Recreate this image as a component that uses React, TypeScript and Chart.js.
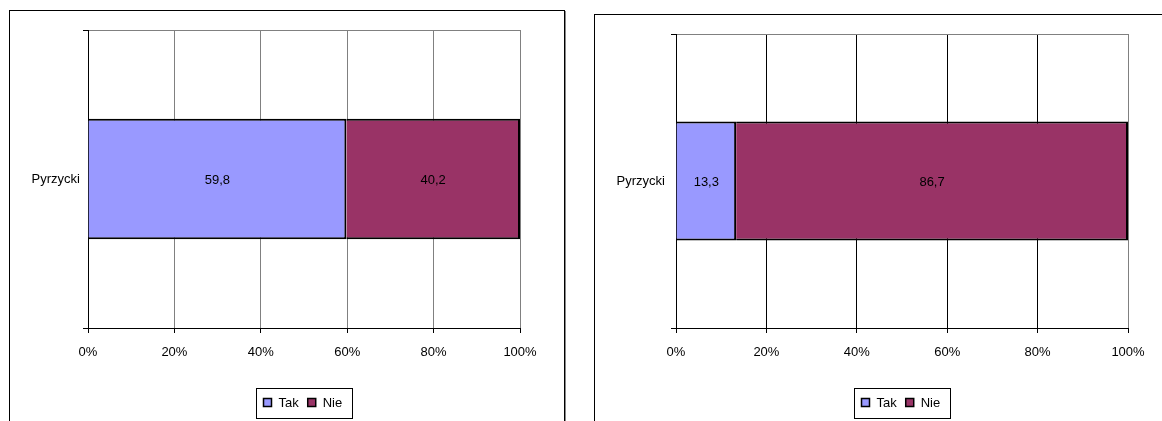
import React, { useEffect, useRef } from 'react';
import { Chart, registerables } from 'chart.js';

Chart.register(...registerables);

const categories = ['Pyrzycki'];
const seriesNames = ['Tak', 'Nie'];
const seriesColors = ['#9999FF', '#993366'];
const leftTak = [59.8];
const leftNie = [40.2];
const rightTak = [13.3];
const rightNie = [86.7];
const xTickStep = 20;
const xMax = 100;

const FONT = { family: '"Liberation Sans", Arial, sans-serif', size: 13 };

const labelsPlugin = {
  id: 'barLabels',
  afterDatasetsDraw(chart: any) {
    const ctx = chart.ctx;
    ctx.save();
    ctx.font = `${FONT.size}px ${FONT.family}`;
    ctx.fillStyle = '#000';
    ctx.textAlign = 'center';
    ctx.textBaseline = 'middle';
    chart.data.datasets.forEach((ds: any, di: number) => {
      const meta = chart.getDatasetMeta(di);
      meta.data.forEach((el: any, i: number) => {
        const v = ds.data[i];
        const cx = (el.x + el.base) / 2;
        ctx.fillText(v.toFixed(1).replace('.', ','), cx, el.y + 1);
      });
    });
    ctx.restore();
  },
};

const legendPlugin = {
  id: 'boxLegend',
  afterDraw(chart: any) {
    const o = chart.options.plugins.boxLegend;
    const ctx = chart.ctx;
    const area = chart.chartArea;
    ctx.save();
    ctx.font = `${FONT.size}px ${FONT.family}`;
    const pad = 7, sq = 8, gap = 7, itemGap = 9;
    const widths = chart.data.datasets.map((d: any) => ctx.measureText(d.label).width);
    let total = pad * 2;
    widths.forEach((w: number, i: number) => {
      total += sq + gap + w + (i < widths.length - 1 ? itemGap : 0);
    });
    total += 3;
    const h = 30;
    const cx = (area.left + area.right) / 2;
    const x0 = Math.round(cx - total / 2) + 0.5;
    const y0 = o.top + 0.5;
    ctx.strokeStyle = '#000';
    ctx.lineWidth = 1;
    ctx.strokeRect(x0, y0, Math.round(total), h);
    let x = x0 + pad;
    const cy = y0 + h / 2;
    chart.data.datasets.forEach((d: any, i: number) => {
      ctx.fillStyle = d.backgroundColor;
      ctx.fillRect(x, cy - sq / 2 - 1, sq, sq);
      ctx.strokeStyle = '#000';
      ctx.lineWidth = 1.5;
      ctx.strokeRect(x, cy - sq / 2 - 1, sq, sq);
      x += sq + gap;
      ctx.fillStyle = '#000';
      ctx.textAlign = 'left';
      ctx.textBaseline = 'middle';
      ctx.fillText(d.label, x, cy);
      x += widths[i] + itemGap;
    });
    ctx.restore();
  },
};

type Props = {
  tak: number[];
  nie: number[];
  boxLeft: number;
  boxTop: number;
  boxWidth: number;
  canvasW: number;
  canvasH: number;
  area: { l: number; r: number; t: number; b: number };
  gridColor: (v: number) => string;
  yPad: number;
  legendTop: number;
};

function BarBox(p: Props) {
  const ref = useRef<HTMLCanvasElement | null>(null);
  useEffect(() => {
    if (!ref.current) return;
    const chart = new Chart(ref.current, {
      type: 'bar',
      data: {
        labels: categories,
        datasets: [
          {
            label: seriesNames[0],
            data: p.tak,
            backgroundColor: seriesColors[0],
            borderColor: '#000',
            borderWidth: 2,
            barPercentage: 0.405,
            categoryPercentage: 1,
          },
          {
            label: seriesNames[1],
            data: p.nie,
            backgroundColor: seriesColors[1],
            borderColor: '#000',
            borderWidth: 2,
            barPercentage: 0.405,
            categoryPercentage: 1,
          },
        ],
      },
      options: {
        indexAxis: 'y',
        responsive: false,
        maintainAspectRatio: false,
        animation: false,
        layout: { padding: { left: 0, top: p.area.t, right: p.canvasW - p.area.r, bottom: 0 } },
        plugins: {
          legend: { display: false },
          tooltip: { enabled: false },
          boxLegend: { top: p.legendTop },
        } as any,
        scales: {
          x: {
            stacked: true,
            min: 0,
            max: xMax,
            ticks: {
              stepSize: xTickStep,
              callback: (v: any) => v + '%',
              padding: 12,
              color: '#000',
              font: FONT,
              maxRotation: 0,
            },
            grid: {
              color: (c: any) => p.gridColor(c.tick ? c.tick.value : 0),
              tickColor: '#000',
              tickLength: 5,
              lineWidth: 1,
            },
            border: { color: '#000', width: 1 },
            afterFit: (s: any) => {
              s.height = p.canvasH - p.area.b;
            },
          },
          y: {
            stacked: true,
            ticks: { padding: p.yPad, color: '#000', font: FONT },
            grid: { color: '#808080', tickColor: '#000', tickLength: 5, offset: true, lineWidth: 1 },
            border: { color: '#000', width: 1 },
            afterFit: (s: any) => {
              s.width = p.area.l;
            },
          },
        },
      } as any,
      plugins: [labelsPlugin, legendPlugin],
    });
    return () => chart.destroy();
  }, []);

  return (
    <div
      style={{
        position: 'absolute',
        left: p.boxLeft,
        top: p.boxTop,
        width: p.boxWidth,
        height: 440,
        boxSizing: 'border-box',
        border: '1px solid #000',
        boxShadow: '1px 1px 0 #888',
        background: '#fff',
      }}
    >
      <canvas
        ref={ref}
        width={p.canvasW}
        height={p.canvasH}
        style={{ display: 'block', width: p.canvasW, height: p.canvasH }}
      />
    </div>
  );
}

export default function App() {
  return (
    <div style={{ position: 'fixed', left: 0, top: 0, width: 1162, height: 421, overflow: 'hidden', background: '#fff' }}>
      <BarBox
        tak={leftTak}
        nie={leftNie}
        boxLeft={9}
        boxTop={10}
        boxWidth={556}
        canvasW={554}
        canvasH={419}
        area={{ l: 78, r: 510, t: 19, b: 317 }}
        gridColor={() => '#808080'}
        yPad={3}
        legendTop={377}
      />
      <BarBox
        tak={rightTak}
        nie={rightNie}
        boxLeft={594}
        boxTop={14}
        boxWidth={700}
        canvasW={567}
        canvasH={415}
        area={{ l: 81, r: 533, t: 19, b: 313 }}
        gridColor={(v) => (v === xMax ? '#808080' : '#000')}
        yPad={6}
        legendTop={373}
      />
    </div>
  );
}
